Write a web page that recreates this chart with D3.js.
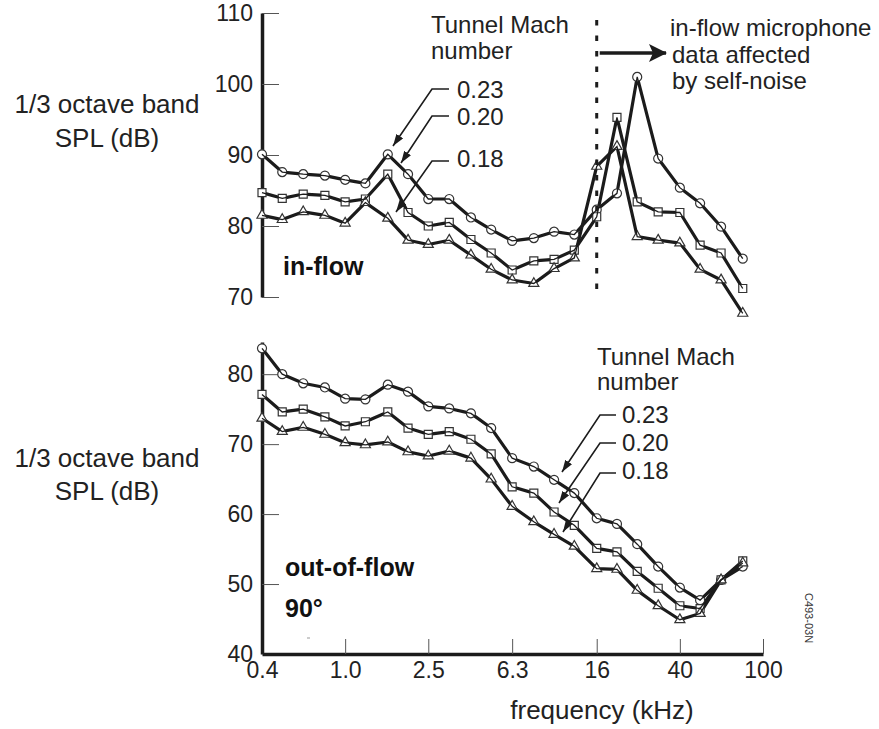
<!DOCTYPE html>
<html>
<head>
<meta charset="utf-8">
<script src="https://cdn.jsdelivr.net/npm/d3@7"></script>
<style>
  html, body { margin: 0; padding: 0; background: #fff; }
  svg { display: block; font-family: "Liberation Sans", Arial, Helvetica, sans-serif; }
</style>
</head>
<body>
<svg id="chart" width="879" height="729"></svg>
<script>
// ---------- data ----------
const freqs = [0.4, 0.5, 0.63, 0.8, 1.0, 1.25, 1.6, 2.0, 2.5, 3.15, 4.0, 5.0,
               6.3, 8.0, 10, 12.5, 16, 20, 25, 31.5, 40, 50, 63, 80];
const xTickValues = [0.4, 1.0, 2.5, 6.3, 16, 40, 100];
const xTickLabels = ["0.4", "1.0", "2.5", "6.3", "16", "40", "100"];
const machLabels = ["0.23", "0.20", "0.18"];

// in-flow panel (dB)
const inflow023 = [90.1, 87.6, 87.3, 87.1, 86.5, 86.0, 90.1, 87.3, 83.8, 83.8, 81.2, 79.5,
                   77.9, 78.3, 79.2, 78.8, 82.3, 84.6, 101.0, 89.5, 85.4, 83.2, 79.9, 75.4];
const inflow020 = [84.7, 83.9, 84.5, 84.3, 83.4, 83.8, 87.3, 81.9, 80.0, 80.5, 78.1, 76.2,
                   73.8, 75.1, 75.3, 76.6, 81.3, 95.3, 83.4, 82.0, 81.9, 77.3, 76.2, 71.2];
const inflow018 = [81.5, 80.9, 82.0, 81.5, 80.4, 83.3, 81.1, 78.0, 77.4, 78.0, 75.9, 73.9,
                   72.4, 71.9, 74.0, 75.5, 88.4, 91.2, 78.5, 78.0, 77.6, 73.9, 72.4, 67.7];
const inflowTicks = [70, 80, 90, 100, 110];

// out-of-flow 90 deg panel (dB)
const outflow023 = [83.7, 80.0, 78.7, 78.1, 76.5, 76.4, 78.5, 77.5, 75.4, 75.1, 74.4, 72.3,
                    68.0, 66.8, 64.9, 63.0, 59.4, 58.6, 55.7, 52.5, 49.5, 47.7, 50.6, 52.5];
const outflow020 = [77.1, 74.6, 75.0, 73.9, 72.6, 73.2, 74.6, 72.3, 71.4, 71.8, 70.7, 68.6,
                    63.9, 63.0, 60.3, 58.4, 55.1, 54.6, 51.8, 49.4, 46.9, 46.5, 50.6, 53.3];
const outflow018 = [73.7, 71.8, 72.4, 71.4, 70.2, 69.9, 70.3, 68.9, 68.3, 69.0, 68.0, 65.0,
                    61.1, 58.9, 57.1, 55.4, 52.2, 52.1, 49.1, 46.9, 44.9, 45.8, 50.6, 53.0];
const outflowTicks = [40, 50, 60, 70, 80];

// ---------- layout ----------
const ink = "#1c1c1c";
const svg = d3.select("#chart");

const x = d3.scaleLog().domain([0.4, 100]).range([262, 763]);
const yTop = d3.scaleLinear().domain([70, 110]).range([297, 13]);
const yBot = d3.scaleLinear().domain([40, 84.6]).range([654, 342]);

const defs = svg.append("defs");
defs.append("marker").attr("id", "ah").attr("viewBox", "0 0 12 8")
  .attr("refX", 12).attr("refY", 4).attr("markerWidth", 12).attr("markerHeight", 8)
  .attr("markerUnits", "userSpaceOnUse").attr("orient", "auto")
  .append("path").attr("d", "M0,0 L12,4 L0,8 Z").attr("fill", ink);
defs.append("marker").attr("id", "ahBig").attr("viewBox", "0 0 18 18")
  .attr("refX", 17).attr("refY", 9).attr("markerWidth", 18).attr("markerHeight", 18)
  .attr("markerUnits", "userSpaceOnUse").attr("orient", "auto")
  .append("path").attr("d", "M0,0 L18,9 L0,18 L4,9 Z").attr("fill", ink);

function styleAxis(g) {
  g.select(".domain").attr("stroke", ink).attr("stroke-width", 3.5);
  g.selectAll(".tick line").attr("stroke", "#555").attr("stroke-width", 1);
  g.selectAll(".tick text").attr("fill", "#222").attr("font-size", 23)
    .attr("font-family", '"Liberation Sans", Arial, sans-serif');
}

// top y axis
svg.append("g").attr("transform", "translate(262,0)")
  .call(d3.axisLeft(yTop).tickValues(inflowTicks).tickSize(-17).tickSizeOuter(0).tickPadding(9))
  .call(styleAxis);

// bottom y axis
svg.append("g").attr("transform", "translate(262,0)")
  .call(d3.axisLeft(yBot).tickValues(outflowTicks).tickSize(-17).tickSizeOuter(0).tickPadding(9))
  .call(styleAxis)
  .call(g => g.selectAll(".tick").filter(d => d === 40).select("line").remove());

// bottom x axis
svg.append("g").attr("transform", "translate(0,654)")
  .call(d3.axisBottom(x).tickValues(xTickValues)
        .tickFormat((d, i) => xTickLabels[i]).tickSize(-15).tickSizeOuter(0).tickPadding(8))
  .call(styleAxis)
  .call(g => g.selectAll(".tick").filter(d => d === 0.4).select("line").remove());

// ---------- series ----------
const symbols = [d3.symbolCircle, d3.symbolSquare, d3.symbolTriangle];
const symSize = [64, 64, 44];

function drawPanel(series, yScale) {
  const line = d3.line().x((d, i) => x(freqs[i])).y(d => yScale(d));
  const g = svg.append("g");
  series.forEach(vals => {
    g.append("path").datum(vals).attr("d", line)
      .attr("fill", "none").attr("stroke", ink).attr("stroke-width", 3.2)
      .attr("stroke-linejoin", "round");
  });
  series.forEach((vals, si) => {
    g.selectAll(null).data(vals).enter().append("path")
      .attr("transform", (d, i) => `translate(${x(freqs[i])},${yScale(d)})`)
      .attr("d", d3.symbol().type(symbols[si]).size(symSize[si]))
      .attr("fill", "#fff").attr("stroke", "#333").attr("stroke-width", 1.2);
  });
  series.forEach(vals => {
    g.append("path").datum(vals).attr("d", line)
      .attr("fill", "none").attr("stroke", ink).attr("stroke-width", 1.3);
  });
}
drawPanel([inflow023, inflow020, inflow018], yTop);
drawPanel([outflow023, outflow020, outflow018], yBot);

// ---------- texts ----------
function txt(t, xx, yy, opts = {}) {
  return svg.append("text").attr("x", xx).attr("y", yy)
    .attr("font-size", opts.size || 23).attr("fill", opts.fill || "#222")
    .attr("font-weight", opts.weight || "normal")
    .attr("text-anchor", opts.anchor || "start").text(t);
}
// y titles
txt("1/3 octave band", 107, 113, {size: 26, anchor: "middle"});
txt("SPL (dB)", 107, 147, {size: 26, anchor: "middle"});
txt("1/3 octave band", 107, 467, {size: 26, anchor: "middle"});
txt("SPL (dB)", 107, 500, {size: 26, anchor: "middle"});
// x title
txt("frequency (kHz)", 602, 719, {size: 26, anchor: "middle"});

// panel labels
txt("in-flow", 283, 275, {size: 25, weight: "bold", fill: "#111"});
txt("out-of-flow", 285, 576, {size: 25, weight: "bold", fill: "#111"});
txt("90°", 285, 617, {size: 25, weight: "bold", fill: "#111"});
// small stray mark in the original scan
svg.append("line").attr("x1", 307).attr("x2", 310).attr("y1", 638).attr("y2", 638)
  .attr("stroke", "#999").attr("stroke-width", 1);

// legends (Tunnel Mach number)
const legendTop = {tx: 431, t1: 33, t2: 59, lx: 457, ly: [98, 125, 167],
                   hy: [89, 116, 161], hx0: 432, hx1: 449,
                   tips: [[393, 146], [401, 163], [396, 212]]};
const legendBot = {tx: 597, t1: 365, t2: 390, lx: 622, ly: [423, 451, 479],
                   hy: [415, 443, 473], hx0: 600, hx1: 616,
                   tips: [[562, 472], [559, 503], [563, 532]]};
[legendTop, legendBot].forEach(L => {
  txt("Tunnel Mach", L.tx, L.t1, {size: 24});
  txt("number", L.tx, L.t2, {size: 24});
  machLabels.forEach((m, i) => {
    txt(m, L.lx, L.ly[i], {size: 24});
    svg.append("path")
      .attr("d", `M${L.hx1},${L.hy[i]} L${L.hx0},${L.hy[i]} L${L.tips[i][0]},${L.tips[i][1]}`)
      .attr("fill", "none").attr("stroke", ink).attr("stroke-width", 1.6)
      .attr("marker-end", "url(#ah)");
  });
});

// self-noise boundary
const xb = x(16);
svg.append("line").attr("x1", xb).attr("x2", xb).attr("y1", 20).attr("y2", 297)
  .attr("stroke", ink).attr("stroke-width", 3).attr("stroke-dasharray", "5.5 10");
svg.append("line").attr("x1", xb + 3).attr("x2", 666).attr("y1", 53).attr("y2", 53)
  .attr("stroke", ink).attr("stroke-width", 3.5).attr("marker-end", "url(#ahBig)");
txt("in-flow microphone", 670, 36, {size: 24});
txt("data affected", 672, 63, {size: 24});
txt("by self-noise", 672, 89, {size: 24});

// figure code
svg.append("text").attr("transform", "translate(805,618) rotate(90)")
  .attr("text-anchor", "middle").attr("font-size", 11).attr("fill", "#333")
  .text("C493-03N");
</script>
</body>
</html>
